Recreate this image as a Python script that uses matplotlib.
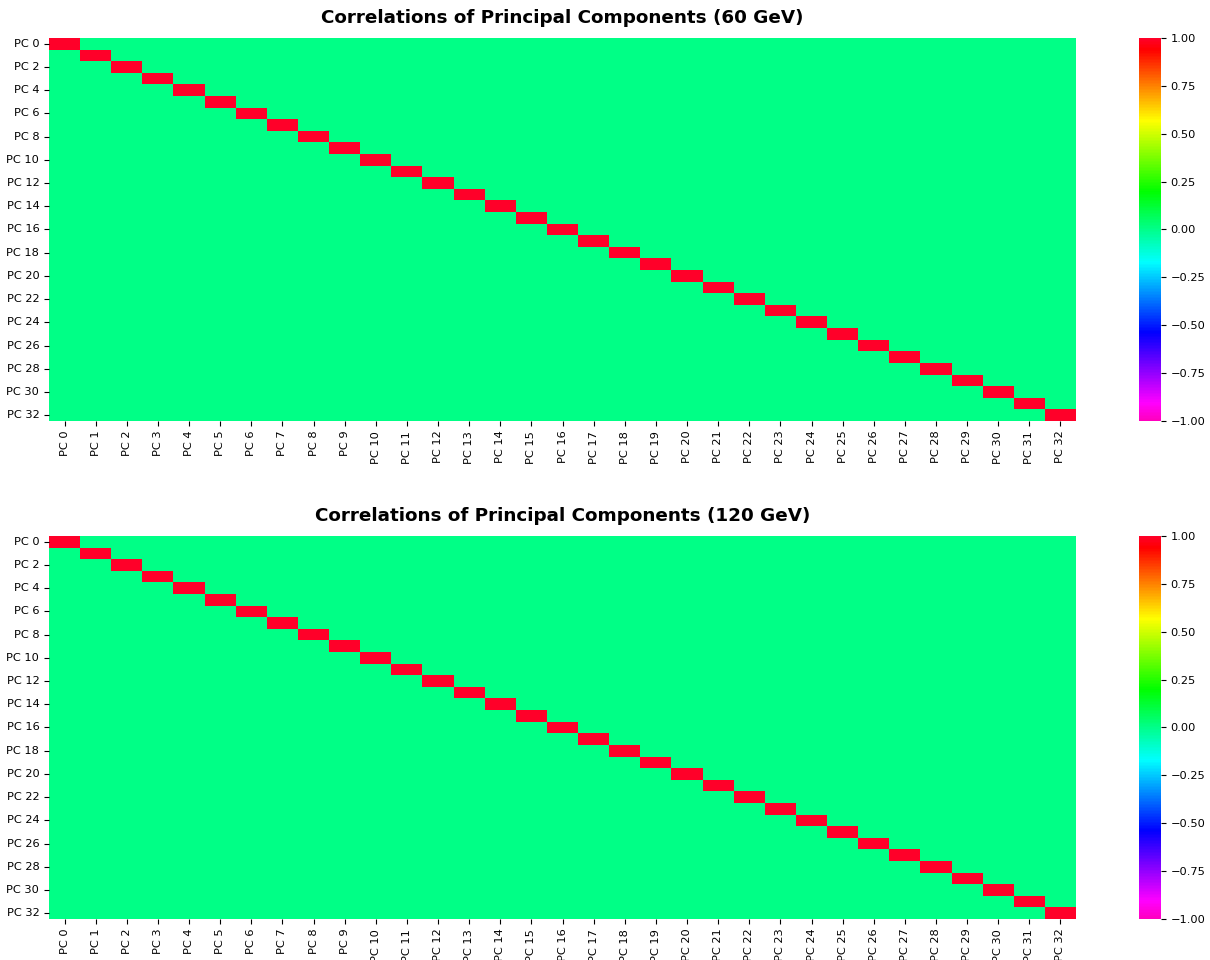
import numpy as np
import matplotlib
matplotlib.use("Agg")
import matplotlib.pyplot as plt
import seaborn as sns

n_components = 33
labels = [f"PC {i}" for i in range(n_components)]
titles = ["Correlations of Principal Components (60 GeV)",
          "Correlations of Principal Components (120 GeV)"]
# Off-diagonal correlations are ~0, diagonal = 1
corr_60 = np.eye(n_components)
corr_120 = np.eye(n_components)
matrices = [corr_60, corr_120]
cbar_ticks = [-1, -0.75, -0.5, -0.25, 0, 0.25, 0.5, 0.75, 1]

fs = 8.2
fig = plt.figure(figsize=(12.1, 9.6), dpi=100)
positions = [
    ([0.0405, 0.5615, 0.8488, 0.399], [0.9413, 0.5615, 0.0182, 0.399]),
    ([0.0405, 0.0427, 0.8488, 0.399], [0.9413, 0.0427, 0.0182, 0.399]),
]
for mat, title, (axpos, cpos) in zip(matrices, titles, positions):
    ax = fig.add_axes(axpos)
    cax = fig.add_axes(cpos)
    sns.heatmap(mat, ax=ax, cbar_ax=cax, cmap="gist_rainbow_r", vmin=-1, vmax=1,
                xticklabels=labels, yticklabels=labels)
    ax.set_yticks(np.arange(0, n_components, 2) + 0.5)
    ax.set_yticklabels(labels[::2], rotation=0, fontsize=fs)
    ax.set_xticks(np.arange(n_components) + 0.5)
    ax.set_xticklabels(labels, rotation=90, fontsize=fs)
    ax.set_title(title, fontsize=13.2, fontweight="bold", pad=11)
    cax.set_yticks(cbar_ticks)
    cax.set_yticklabels([f"{v:.2f}".replace("-", "\u2212") for v in cbar_ticks], fontsize=fs)

fig.savefig("out.png", dpi=100)
